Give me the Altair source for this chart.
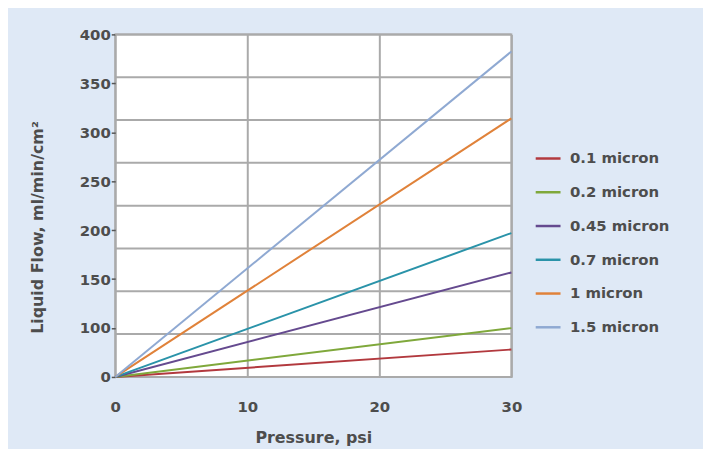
import json
import altair as alt
import pandas as pd

# ---- data ----
pressure_start = 0
pressure_end = 30
sizes = ["0.1 micron", "0.2 micron", "0.45 micron", "0.7 micron", "1 micron", "1.5 micron"]
flow_at_0 = [0, 0, 0, 0, 0, 0]
flow_at_30 = [32, 57, 122, 168, 302, 380]
colors = ["#b2393e", "#7fa83b", "#654a8f", "#2a93a9", "#e0823a", "#8fa9d2"]

x_ticks = [0, 10, 20, 30]
y_grid = [0, 50, 100, 150, 200, 250, 300, 350, 400]
y_tick_labels = ["0", "100", "150", "200", "250", "300", "350", "400"]

rows = []
for s, a, b in zip(sizes, flow_at_0, flow_at_30):
    rows.append({"pressure": pressure_start, "flow": a, "size": s})
    rows.append({"pressure": pressure_end, "flow": b, "size": s})
df = pd.DataFrame(rows)
grid_df = pd.DataFrame({"flow": y_grid})

n = len(y_tick_labels) - 1
y_tick_pos = [400 * i / n for i in range(n + 1)]
label_expr = json.dumps(y_tick_labels) + f"[round(datum.value*{n}/400)]"

TXT = "#4d4d4d"
FONT = "DejaVu Sans"

y_scale = alt.Scale(domain=[0, 400], nice=False, zero=True)
y_axis = alt.Axis(
    values=y_tick_pos, labelExpr=label_expr, grid=False, domain=False, labelFlush=False,
    ticks=True, tickSize=4, tickWidth=1.5, tickColor="#555555", labelPadding=1,
    labelFontSize=15, labelFontWeight="bold", labelColor=TXT, labelFont=FONT,
    title="Liquid Flow, ml/min/cm²", titleFontSize=16, titleFontWeight="bold",
    titleColor=TXT, titleFont=FONT, titleX=-78, titleY=194, titleBaseline="middle",
)
x_scale = alt.Scale(domain=[0, 30], nice=False)
x_axis = alt.Axis(
    values=x_ticks, grid=True, gridColor="#aaaaaa", gridWidth=2, ticks=False, domain=False,
    labelFlush=False,
    labelPadding=23, labelFontSize=15, labelFontWeight="bold", labelColor=TXT, labelFont=FONT,
    title="Pressure, psi", titleFontSize=16, titleFontWeight="bold", titleColor=TXT,
    titleFont=FONT, titleY=61, titleBaseline="middle",
)

grid = alt.Chart(grid_df).mark_rule(color="#aaaaaa", strokeWidth=2).encode(
    y=alt.Y("flow:Q", scale=y_scale, axis=y_axis),
)

lines = alt.Chart(df).mark_line(strokeWidth=2).encode(
    x=alt.X("pressure:Q", scale=x_scale, axis=x_axis),
    y=alt.Y("flow:Q", scale=y_scale, axis=y_axis),
    color=alt.Color(
        "size:N",
        scale=alt.Scale(domain=sizes, range=colors),
        sort=sizes,
        legend=alt.Legend(
            orient="none", legendX=422, legendY=111, title=None,
            symbolType="stroke", symbolSize=625, symbolStrokeWidth=2.5,
            labelFontSize=15, labelFontWeight="bold", labelColor=TXT, labelFont=FONT,
            rowPadding=12, labelOffset=8, padding=0,
        ),
    ),
)

chart = alt.layer(grid, lines).properties(
    width=399, height=345,
    autosize=alt.AutoSizeParams(type="none"),
    padding={"left": 108, "top": 25, "right": 193, "bottom": 71},
    background="#dfe9f6",
).configure_view(fill="white", stroke="#a9a9a9", strokeWidth=2)

chart.save("out.html", embed_options={"renderer": "svg", "actions": False})
